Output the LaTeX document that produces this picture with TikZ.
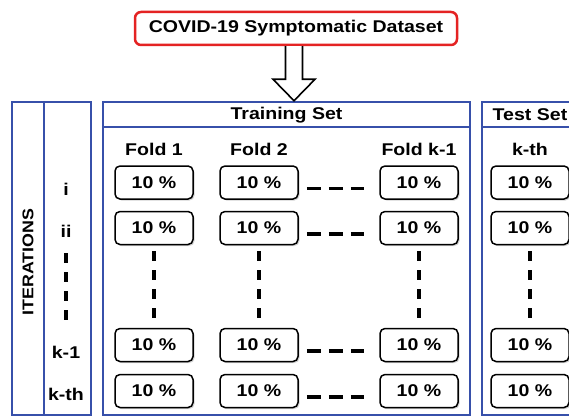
\documentclass[tikz,border=0pt]{standalone}
\usepackage{fontspec}
\setmainfont[FakeStretch=1.15]{Liberation Sans}
\usepackage{tikz}
\usetikzlibrary{shadows}
\usetikzlibrary{positioning}
\usepackage{xcolor}
\definecolor{frameblue}{RGB}{55,80,170}
\definecolor{datared}{RGB}{228,35,35}
\tikzset{>=latex}

\begin{document}
\begin{tikzpicture}[x=1pt, y=-1pt, font=\fontsize{17}{20}\selectfont\bfseries]
                        % pct = one 10 % fold, panel = blue frame (snippets)
                        \tikzstyle{pct}=[draw=black, line width=1.5pt, rounded corners=5pt, minimum width=78pt, minimum height=33pt, fill=white, drop shadow={shadow xshift=1.5pt, shadow yshift=-1.5pt, opacity=0.35}]
                        \tikzstyle{panel}=[draw=frameblue, line width=2.5pt, inner sep=0pt, minimum height=313pt]
                        \tikzstyle{gapline}=[black, line width=3.5pt, dash pattern=on 10pt off 9pt]
                        \tikzstyle{hgapline}=[black, line width=3.5pt, dash pattern=on 14pt off 8pt, shorten <=8pt, shorten >=15pt]
                        \clip (0,0) rectangle (569,417);

                        \node[draw=datared, line width=2.5pt, rounded corners=6pt, minimum width=322pt, minimum height=33pt] (data) at (296,28.5) {COVID-19 Symptomatic Dataset};

                        \node[panel, minimum width=32pt] (iter) at (28,258.5) {};
                        \node[panel, minimum width=47pt] (rowcol) at (67.5,258.5) {};
                        \node[panel, minimum width=367pt] (train) at (286.5,258.5) {};
                        \node[panel, minimum width=96pt] (test) at (530,258.5) {};
                        \draw[frameblue, line width=2.5pt] ([yshift=-26pt]train.north west) -- ([yshift=-26pt]train.north east);
                        \draw[frameblue, line width=2.5pt] ([yshift=-26pt]test.north west) -- ([yshift=-26pt]test.north east);

                        % hollow arrow from the dataset down to the folds
                        \coordinate (arrtop) at ([xshift=-2pt]data.south);
                        \coordinate (arrtip) at (arrtop |- train.north);
                        \draw[line width=1.6pt, fill=white] ([xshift=-8.5pt]arrtop) -- ([xshift=-8.5pt, yshift=-33pt]arrtop)
                                -- ([xshift=-21pt, yshift=-33pt]arrtop) -- (arrtip) -- ([xshift=21pt, yshift=-33pt]arrtop)
                                -- ([xshift=8.5pt, yshift=-33pt]arrtop) -- ([xshift=8.5pt]arrtop);

                        \node (traintitle) at (286.5,115) {Training Set};
                        \node (testtitle) at (530,115) {Test Set};
                        \node[rotate=90, font=\fontsize{15.5}{18}\selectfont\bfseries] (itertext) at (28,262) {ITERATIONS};

                        \node (fold1) at (154,149) {Fold 1};
                        \node (fold2) at (259,149) {Fold 2};
                        \node (foldk) at (419,149) {Fold k-1};
                        \node (foldt) at (530,149) {k-th};

                        \node (r1) at (66,189) {i};
                        \node (r2) at (66,231) {ii};
                        \node (r3) at (66,352) {k-1};
                        \node (r4) at (66,394) {k-th};
                        \draw[gapline] ([yshift=-22pt]r2.center) -- ([yshift=30pt]r3.center);

                        \node[pct] (a1) at (154,182.5) {10 \%};
                        \node[pct] (b1) at (259,182.5) {10 \%};
                        \node[pct] (c1) at (419,182.5) {10 \%};
                        \node[pct] (d1) at (530,182.5) {10 \%};
                        \draw[hgapline] ([yshift=-6pt]b1.east) -- ([yshift=-6pt]c1.west);

                        \node[pct] (a2) at (154,228) {10 \%};
                        \node[pct] (b2) at (259,228) {10 \%};
                        \node[pct] (c2) at (419,228) {10 \%};
                        \node[pct] (d2) at (530,228) {10 \%};
                        \draw[hgapline] ([yshift=-6pt]b2.east) -- ([yshift=-6pt]c2.west);

                        \node[pct] (a3) at (154,345) {10 \%};
                        \node[pct] (b3) at (259,345) {10 \%};
                        \node[pct] (c3) at (419,345) {10 \%};
                        \node[pct] (d3) at (530,345) {10 \%};
                        \draw[hgapline] ([yshift=-6pt]b3.east) -- ([yshift=-6pt]c3.west);

                        \node[pct] (a4) at (154,391) {10 \%};
                        \node[pct] (b4) at (259,391) {10 \%};
                        \node[pct] (c4) at (419,391) {10 \%};
                        \node[pct] (d4) at (530,391) {10 \%};
                        \draw[hgapline] ([yshift=-6pt]b4.east) -- ([yshift=-6pt]c4.west);

                        \draw[gapline, shorten <=6pt, shorten >=6pt] (a2) -- (a3);
                        \draw[gapline, shorten <=6pt, shorten >=6pt] (b2) -- (b3);
                        \draw[gapline, shorten <=6pt, shorten >=6pt] (c2) -- (c3);
                        \draw[gapline, shorten <=6pt, shorten >=6pt] (d2) -- (d3);

                \end{tikzpicture}
\end{document}
